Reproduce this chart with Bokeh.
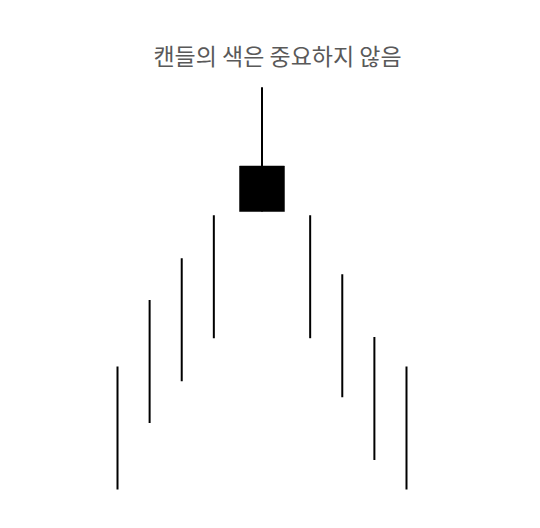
from bokeh.plotting import figure
from bokeh.models import Range1d, Label
from bokeh.embed import file_html
from bokeh.resources import INLINE

# data
positions = [1, 2, 3, 4, 5.5, 7, 8, 9, 10]
opens  = [5.0, 10.4, 13.8, 17.3, 22.6, 17.3, 12.5, 7.4, 5.0]
closes = [5.0, 10.4, 13.8, 17.3, 26.3, 17.3, 12.5, 7.4, 5.0]
highs  = [10.0, 15.4, 18.8, 22.3, 32.7, 22.3, 17.5, 12.4, 10.0]
lows   = [0.0, 5.4, 8.8, 12.3, 22.6, 12.3, 7.5, 2.4, 0.0]
title_text = "캔들의 색은 중요하지 않음"

p = figure(width=524, height=512, output_backend="svg", toolbar_location=None,
           x_range=Range1d(-2.644, 13.675), y_range=Range1d(-1.87, 39.756),
           min_border=0, min_border_left=0, min_border_right=0,
           min_border_top=0, min_border_bottom=0)
p.axis.visible = False
p.grid.visible = False
p.outline_line_color = None
p.background_fill_color = "white"
p.border_fill_color = "white"

p.segment(x0=positions, y0=lows, x1=positions, y1=highs, line_color="black", line_width=2)

tops = [max(o, c) for o, c in zip(opens, closes)]
bottoms = [min(o, c) for o, c in zip(opens, closes)]
body_idx = [i for i in range(len(positions)) if tops[i] > bottoms[i]]
p.vbar(x=[positions[i] for i in body_idx], width=1.40,
       top=[tops[i] for i in body_idx], bottom=[bottoms[i] for i in body_idx],
       fill_color="black", line_color="black", line_width=0.5)

p.add_layout(Label(x=277, y=458, x_units="screen", y_units="screen", text=title_text,
                   text_align="center", text_baseline="middle", text_font="Noto Sans CJK KR",
                   text_font_size="23px", text_color="#595959"))

open("out.html", "w").write(file_html(p, INLINE))
